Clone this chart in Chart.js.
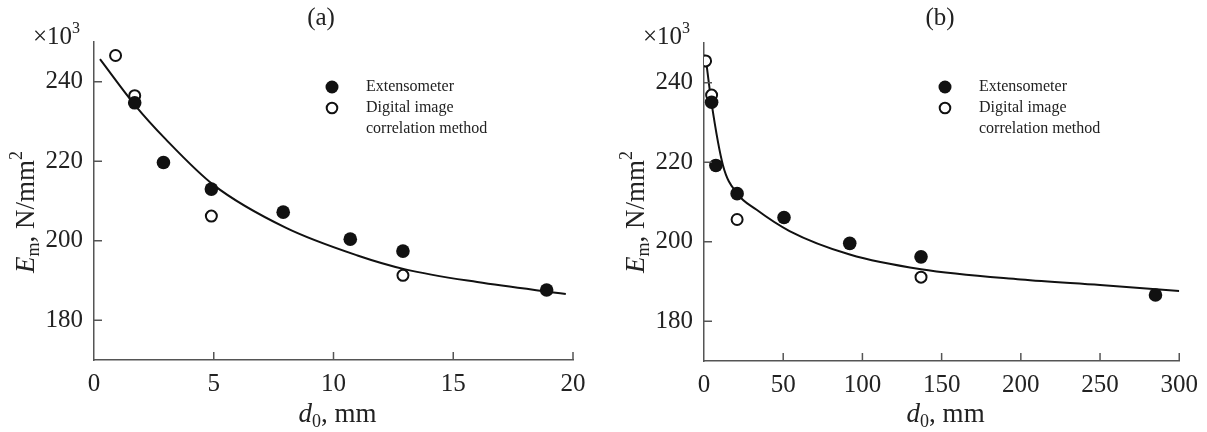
<!DOCTYPE html>
<html lang="en">
<head>
<meta charset="UTF-8">
<title>Em vs d0</title>
<script src="https://cdn.jsdelivr.net/npm/chart.js"></script>
<style>
  body { margin: 0; background: #fff; }
  #wrap { position: relative; width: 1207px; height: 432px; }
  .panel { position: absolute; top: 0; height: 432px; }
  #panelA { left: 0; width: 600px; }
  #panelB { left: 600px; width: 607px; }
</style>
</head>
<body>
<div id="wrap">
  <div class="panel" id="panelA"><canvas id="chartA"></canvas></div>
  <div class="panel" id="panelB"><canvas id="chartB"></canvas></div>
</div>
<script>
// (a) d0 0..20 mm
const extA_x = [1.7, 2.9, 4.9, 7.9, 10.7, 12.9, 18.9];
const extA_y = [234.7, 219.7, 213.0, 207.2, 200.4, 197.4, 187.6];
const dicA_x = [0.9, 1.7, 4.9, 12.9];
const dicA_y = [246.6, 236.5, 206.2, 191.3];
const fitA_x = [0.25, 1.7, 3, 5, 8, 11, 13, 16, 19.7];
const fitA_y = [245.7, 234.2, 225.5, 214, 203.3, 196.3, 192.8, 189.6, 186.6];

// (b) d0 0..300 mm
const extB_x = [4.8, 7.5, 20.9, 50.5, 92, 137, 285];
const extB_y = [235.1, 219.2, 212.1, 206.1, 199.6, 196.2, 186.6];
const dicB_x = [1.0, 4.8, 20.9, 137];
const dicB_y = [245.5, 236.9, 205.6, 191.1];
const fitB_x = [1, 4.8, 12, 21, 33, 54, 92, 137, 200, 250, 300];
const fitB_y = [246.5, 234.8, 219.2, 212.1, 208.1, 202.7, 196.8, 193.1, 190.5, 189.1, 187.6];

const yTicks = [180, 200, 220, 240];
const legendLabels = ['Extensometer', 'Digital image', 'correlation method'];

const serif = "'Liberation Serif', 'Times New Roman', serif";
const axisColor = '#555';

function pts(xs, ys) { return xs.map((x, i) => ({ x: x, y: ys[i] })); }

function rich(ctx, parts, x, y, align) {
  let w = 0;
  parts.forEach(p => { ctx.font = p.f; w += ctx.measureText(p.t).width; });
  let cx = align === 'center' ? x - w / 2 : (align === 'right' ? x - w : x);
  parts.forEach(p => {
    ctx.font = p.f;
    ctx.fillText(p.t, cx, y + (p.dy || 0));
    cx += ctx.measureText(p.t).width;
  });
}

const decor = {
  id: 'decor',
  afterDraw(chart, args, o) {
    const ctx = chart.ctx, a = chart.chartArea;
    const xs = chart.scales.x, ys = chart.scales.y;
    ctx.save();
    // ticks pointing inwards
    ctx.strokeStyle = axisColor;
    ctx.lineWidth = 1.5;
    xs.ticks.forEach(t => {
      if (t.value === xs.min) return;
      const px = xs.getPixelForValue(t.value);
      ctx.beginPath(); ctx.moveTo(px, a.bottom); ctx.lineTo(px, a.bottom - 8); ctx.stroke();
    });
    ys.ticks.forEach(t => {
      const py = ys.getPixelForValue(t.value);
      ctx.beginPath(); ctx.moveTo(a.left, py); ctx.lineTo(a.left + 8, py); ctx.stroke();
    });

    ctx.fillStyle = '#222';
    ctx.textBaseline = 'middle';
    // panel letter
    ctx.font = '25px ' + serif;
    ctx.textAlign = 'center';
    ctx.fillText(o.panel, o.panelX, 18);
    ctx.textAlign = 'left';
    // multiplier
    rich(ctx, [
      { t: '\u00d710', f: '25px ' + serif },
      { t: '3', f: '16px ' + serif, dy: -8 }
    ], a.left - 61, 37, 'left');
    // x title
    rich(ctx, [
      { t: 'd', f: 'italic 27px ' + serif },
      { t: '0', f: '18px ' + serif, dy: 7 },
      { t: ', mm', f: '27px ' + serif }
    ], (a.left + a.right) / 2 + 4, 415, 'center');
    // y title
    ctx.save();
    ctx.translate(o.yTitleX, 212);
    ctx.rotate(-Math.PI / 2);
    rich(ctx, [
      { t: 'E', f: 'italic 27px ' + serif },
      { t: 'm', f: '18px ' + serif, dy: 7 },
      { t: ', N/mm', f: '27px ' + serif },
      { t: '2', f: '18px ' + serif, dy: -10 }
    ], 0, 0, 'center');
    ctx.restore();

    // legend
    const lx = o.legendX, ly = 87, gap = 21;
    ctx.fillStyle = '#111';
    ctx.beginPath(); ctx.arc(lx, ly, 6.5, 0, Math.PI * 2); ctx.fill();
    ctx.strokeStyle = '#111'; ctx.lineWidth = 2;
    ctx.beginPath(); ctx.arc(lx, ly + gap, 5.3, 0, Math.PI * 2); ctx.stroke();
    ctx.font = '16px ' + serif;
    ctx.fillStyle = '#222';
    legendLabels.forEach((s, i) => ctx.fillText(s, lx + 34, ly + i * gap));
    ctx.restore();
  }
};

function makeChart(id, d, xMax, xStep, pad, o) {
  return new Chart(document.getElementById(id), {
    type: 'scatter',
    data: {
      datasets: [
        {
          label: 'Extensometer', data: pts(d.ex, d.ey), order: 0,
          pointRadius: 6.8, pointHoverRadius: 6.8,
          backgroundColor: '#111', borderColor: '#111', borderWidth: 0
        },
        {
          label: 'Digital image correlation method', data: pts(d.dx, d.dy), order: 1,
          pointRadius: 5.5, pointHoverRadius: 5.5,
          backgroundColor: '#fff', borderColor: '#111', borderWidth: 2
        },
        {
          type: 'line', label: 'fit', data: pts(d.fx, d.fy), order: 2,
          showLine: true, pointRadius: 0, borderColor: '#111', borderWidth: 2,
          cubicInterpolationMode: 'monotone', fill: false
        }
      ]
    },
    options: {
      responsive: true,
      maintainAspectRatio: false,
      animation: false,
      layout: { padding: { top: pad.top, right: pad.right, left: 0, bottom: 0 } },
      plugins: { legend: { display: false }, tooltip: { enabled: false }, decor: o },
      scales: {
        x: {
          type: 'linear', min: 0, max: xMax,
          ticks: { stepSize: xStep, padding: 9, color: '#222', font: { family: serif, size: 25 } },
          grid: { display: false, drawTicks: false },
          border: { display: true, color: axisColor, width: 1.5 },
          afterFit: s => { s.height = pad.xh; }
        },
        y: {
          type: 'linear', min: 170, max: 250,
          afterBuildTicks: s => { s.ticks = yTicks.map(v => ({ value: v })); },
          ticks: { padding: 11, color: '#222', font: { family: serif, size: 25 } },
          grid: { display: false, drawTicks: false },
          border: { display: true, color: axisColor, width: 1.5 },
          afterFit: s => { s.width = pad.yw; }
        }
      }
    },
    plugins: [decor]
  });
}

makeChart('chartA',
  { ex: extA_x, ey: extA_y, dx: dicA_x, dy: dicA_y, fx: fitA_x, fy: fitA_y },
  20, 5, { top: 42, right: 27, xh: 72, yw: 94 },
  { panel: '(a)', panelX: 321, legendX: 332, yTitleX: 27 });

makeChart('chartB',
  { ex: extB_x, ey: extB_y, dx: dicB_x, dy: dicB_y, fx: fitB_x, fy: fitB_y },
  300, 50, { top: 43, right: 24, xh: 71, yw: 104 },
  { panel: '(b)', panelX: 340, legendX: 345, yTitleX: 37 });
</script>
</body>
</html>
